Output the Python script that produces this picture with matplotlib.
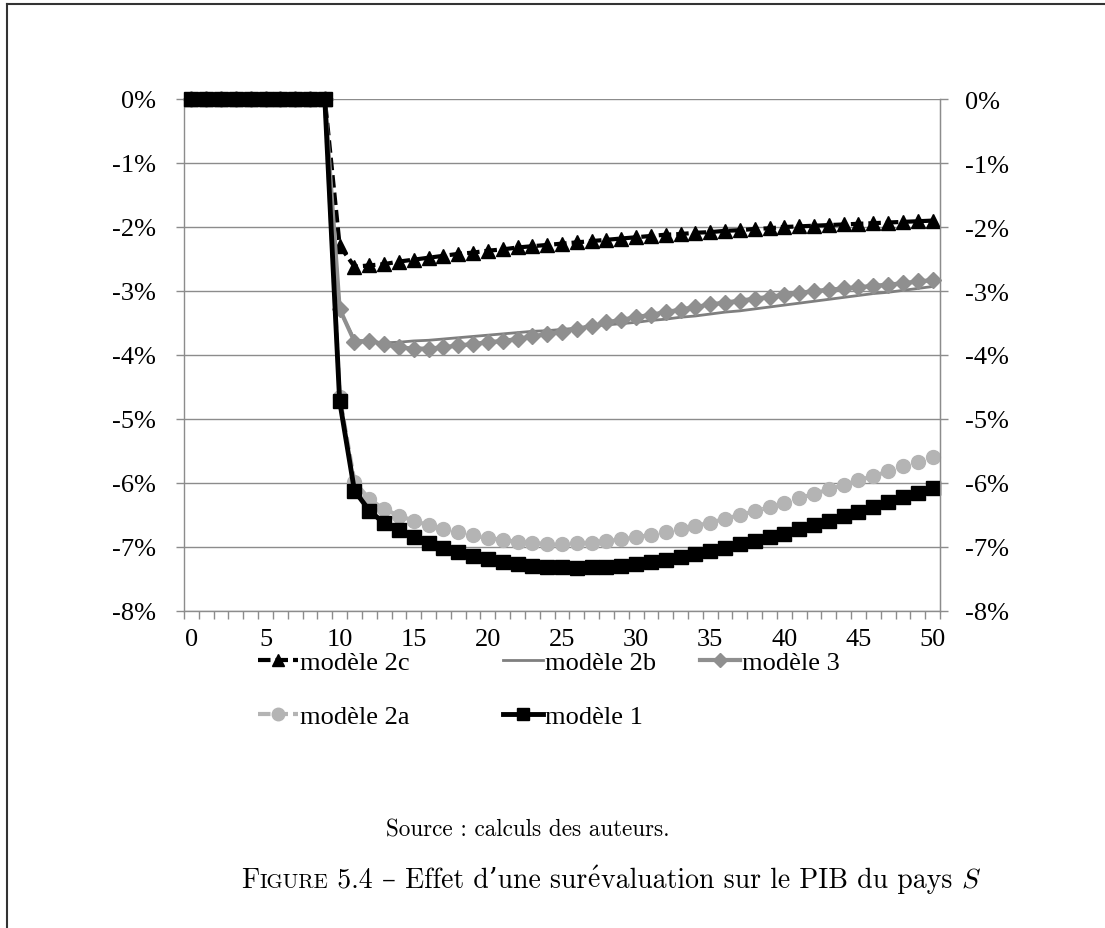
import matplotlib.pyplot as plt
from matplotlib.lines import Line2D
from matplotlib.font_manager import FontProperties

periods = list(range(51))
zeros = [0.0] * 10

modele_2c = zeros + [-2.29, -2.62, -2.60, -2.58, -2.54, -2.51, -2.48, -2.45, -2.42, -2.40,
                     -2.37, -2.35, -2.32, -2.30, -2.28, -2.26, -2.24, -2.22, -2.20, -2.18,
                     -2.16, -2.14, -2.12, -2.11, -2.09, -2.08, -2.06, -2.05, -2.03, -2.02,
                     -2.00, -1.99, -1.98, -1.97, -1.96, -1.95, -1.94, -1.93, -1.92, -1.91, -1.90]
modele_2b = zeros + [-3.30, -3.76, -3.80, -3.81, -3.80, -3.78, -3.77, -3.75, -3.73, -3.71,
                     -3.69, -3.67, -3.65, -3.63, -3.62, -3.60, -3.58, -3.55, -3.53, -3.51,
                     -3.49, -3.46, -3.44, -3.41, -3.39, -3.36, -3.33, -3.31, -3.28, -3.25,
                     -3.22, -3.19, -3.16, -3.13, -3.10, -3.07, -3.04, -3.02, -2.99, -2.96, -2.93]
modele_3 = zeros + [-3.28, -3.79, -3.78, -3.83, -3.88, -3.90, -3.90, -3.88, -3.85, -3.83,
                    -3.80, -3.78, -3.75, -3.71, -3.67, -3.64, -3.59, -3.55, -3.49, -3.45,
                    -3.41, -3.37, -3.33, -3.29, -3.25, -3.21, -3.18, -3.15, -3.12, -3.09,
                    -3.06, -3.03, -3.00, -2.98, -2.96, -2.94, -2.92, -2.90, -2.88, -2.85, -2.83]
modele_2a = zeros + [-4.65, -5.98, -6.25, -6.41, -6.51, -6.59, -6.66, -6.72, -6.77, -6.82,
                     -6.86, -6.89, -6.92, -6.94, -6.95, -6.95, -6.94, -6.93, -6.91, -6.88,
                     -6.85, -6.81, -6.77, -6.72, -6.67, -6.62, -6.56, -6.50, -6.44, -6.38,
                     -6.31, -6.24, -6.17, -6.10, -6.03, -5.96, -5.89, -5.82, -5.74, -5.67, -5.60]
modele_1 = zeros + [-4.72, -6.12, -6.43, -6.63, -6.74, -6.84, -6.94, -7.01, -7.08, -7.14,
                    -7.19, -7.23, -7.26, -7.29, -7.31, -7.32, -7.33, -7.32, -7.31, -7.29,
                    -7.27, -7.24, -7.20, -7.16, -7.11, -7.06, -7.01, -6.96, -6.90, -6.85,
                    -6.79, -6.72, -6.66, -6.59, -6.52, -6.45, -6.37, -6.29, -6.22, -6.15, -6.08]

y_ticks = [0, -1, -2, -3, -4, -5, -6, -7, -8]
y_labels = ['0%', '-1%', '-2%', '-3%', '-4%', '-5%', '-6%', '-7%', '-8%']
x_labels = list(range(0, 51, 5))

fs = 19
times = FontProperties(family='Liberation Serif', size=fs)
cm = ['cmr10', 'DejaVu Serif']
grid_col = '#8c8c8c'

fig = plt.figure(figsize=(11.05, 9.29), dpi=100)
W, H = 1105, 929
ax = fig.add_axes([184 / W, 1 - 612 / H, (940 - 184) / W, (612 - 100) / H])

ax.plot(periods, modele_2c, color='black', lw=3, linestyle=(0, (3, 1.2)),
        marker='^', ms=10, label='modèle 2c', zorder=3, clip_on=False)
ax.plot(periods, modele_2b, color='#7f7f7f', lw=2, label='modèle 2b', zorder=3,
        clip_on=False)
ax.plot(periods, modele_3, color='#8f8f8f', lw=3, marker='D', ms=8,
        label='modèle 3', zorder=3, clip_on=False)
ax.plot(periods, modele_2a, color='#b4b4b4', lw=3, linestyle=(0, (3, 1.2)),
        marker='o', ms=10, label='modèle 2a', zorder=3, clip_on=False)
ax.plot(periods, modele_1, color='black', lw=3.5, marker='s', ms=9.5,
        label='modèle 1', zorder=3, clip_on=False)

ax.set_xlim(-0.5, 50.5)
ax.set_ylim(-8, 0)
ax.set_yticks(y_ticks)
ax.set_yticklabels(y_labels)
ax.set_xticks(x_labels)
ax.set_xticklabels([str(v) for v in x_labels])
ax.set_xticks([i - 0.5 for i in range(52)], minor=True)
ax.tick_params(axis='x', which='major', length=0, pad=12)
ax.tick_params(axis='x', which='minor', length=6, width=1, color=grid_col, direction='out')
ax.tick_params(axis='y', length=6, width=1, color=grid_col, pad=14)
ax.grid(axis='y', color=grid_col, lw=1, zorder=0)
ax.spines['top'].set_visible(False)
for side in ['left', 'bottom', 'right']:
    ax.spines[side].set_color(grid_col)
    ax.spines[side].set_linewidth(1)

ax2 = ax.twinx()
ax2.set_ylim(-8, 0)
ax2.set_yticks(y_ticks)
ax2.set_yticklabels(y_labels)
ax2.tick_params(axis='y', length=6, width=1, color=grid_col, pad=12)
for side in ['top', 'left', 'bottom']:
    ax2.spines[side].set_visible(False)
ax2.spines['right'].set_color(grid_col)

for a in (ax, ax2):
    for lab in a.get_xticklabels() + a.get_yticklabels():
        lab.set_fontproperties(times)

# legend laid out in three columns like the original
handles, labels = ax.get_legend_handles_labels()
cols = [([0, 3], 258), ([1, 4], 503), ([2], 700)]
for idx, xpx in cols:
    fig.legend([handles[i] for i in idx], [labels[i] for i in idx],
               loc='upper left', bbox_to_anchor=(xpx / W, 1 - 652 / H),
               frameon=False, prop=times,
               handlelength=1.5, handletextpad=0.1, labelspacing=1.13,
               borderpad=0, borderaxespad=0, markerscale=0.9)

fig.text(528 / W, 1 - 830 / H, 'Source : calculs des auteurs.', ha='center',
         va='center', family=cm, fontsize=16.7)

# caption with small capitals, built piece by piece
renderer = fig.canvas.get_renderer()
parts = ['F', 'IGURE', ' 5.4 – Effet d’une sur', r'$\mathrm{\acute{e}}$',
         'valuation sur le PIB du pays ', '$S$']
sizes = [20, 15, 20, 20, 20, 20]
x = 241
base = 1 - 888 / H
for txt, size in zip(parts, sizes):
    t = fig.text(x / W, base, txt, fontsize=size, va='baseline', ha='left',
                 family=cm, math_fontfamily='cm')
    x += t.get_window_extent(renderer).width

# page frame (top and left rule)
fig.add_artist(Line2D([7 / W, 7 / W], [0, 1 - 5 / H], color='#333333', lw=1.5))
fig.add_artist(Line2D([7 / W, 1], [1 - 5 / H, 1 - 5 / H], color='#333333', lw=1.5))

fig.savefig('out.png', dpi=100)
